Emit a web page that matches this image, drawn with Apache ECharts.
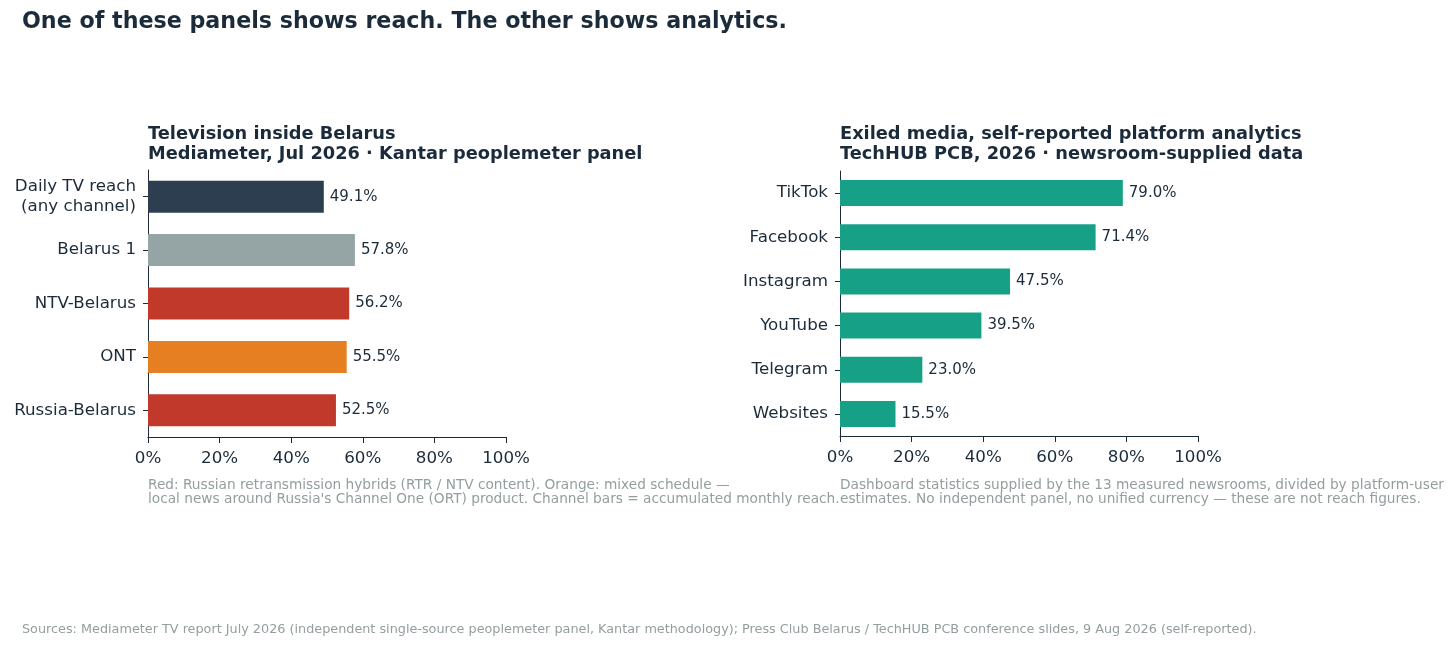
<!DOCTYPE html>
<html>
<head>
<meta charset="utf-8">
<script src="https://cdn.jsdelivr.net/npm/echarts@6/dist/echarts.min.js"></script>
<style>
  html, body { margin: 0; padding: 0; background: #fff; }
  #main { width: 1456px; height: 649px; }
</style>
</head>
<body>
<div id="main"></div>
<script>
// left panel: TV reach inside Belarus
var tvChannels = ['Daily TV reach\n(any channel)', 'Belarus 1', 'NTV-Belarus', 'ONT', 'Russia-Belarus'];
var tvReach = [49.1, 57.8, 56.2, 55.5, 52.5];
var tvColors = ['#2c3e50', '#95a5a6', '#c0392b', '#e67e22', '#c0392b'];

// right panel: exiled media platform analytics
var platforms = ['TikTok', 'Facebook', 'Instagram', 'YouTube', 'Telegram', 'Websites'];
var platformShare = [79.0, 71.4, 47.5, 39.5, 23.0, 15.5];
var platformColor = '#16a085';

var pctTicks = [0, 20, 40, 60, 80, 100];

var ink = '#1c2b3a';
var noteGrey = '#939e9f';
var font = 'DejaVu Sans';

var myChart = echarts.init(document.getElementById('main'));

function xAxisFor(gridIndex) {
  return {
    type: 'value', gridIndex: gridIndex,
    min: pctTicks[0], max: pctTicks[pctTicks.length - 1], interval: 20,
    splitLine: { show: false },
    axisLine: { show: true, lineStyle: { color: ink, width: 1 } },
    axisTick: { show: true, length: 6, lineStyle: { color: ink } },
    axisLabel: { formatter: '{value}%', color: ink, fontSize: 16.7, fontFamily: font, margin: 13 }
  };
}
function yAxisFor(gridIndex, cats) {
  return {
    type: 'category', gridIndex: gridIndex, data: cats, inverse: true,
    axisLine: { show: true, lineStyle: { color: ink, width: 1 } },
    axisTick: { show: true, length: 5, alignWithLabel: true, lineStyle: { color: ink } },
    axisLabel: { color: ink, fontSize: 16.7, fontFamily: font, margin: 12, lineHeight: 20, align: 'right' }
  };
}
var valueLabel = {
  show: true, position: 'right', distance: 6,
  formatter: function (p) { return p.value.toFixed(1) + '%'; },
  color: ink, fontSize: 15, fontFamily: font
};

var option = {
  backgroundColor: '#fff',
  animation: false,
  textStyle: { fontFamily: font },
  title: [
    { text: 'One of these panels shows reach. The other shows analytics.', left: 22, top: 11, padding: 0,
      textStyle: { fontSize: 22.2, fontWeight: 'bold', color: ink, fontFamily: font } },
    { text: 'Television inside Belarus\nMediameter, Jul 2026 · Kantar peoplemeter panel', left: 148, top: 124, padding: 0,
      textStyle: { fontSize: 17.8, fontWeight: 'bold', color: ink, fontFamily: font, lineHeight: 20.5 } },
    { text: 'Exiled media, self-reported platform analytics\nTechHUB PCB, 2026 · newsroom-supplied data', left: 840, top: 124, padding: 0,
      textStyle: { fontSize: 17.8, fontWeight: 'bold', color: ink, fontFamily: font, lineHeight: 20.5 } }
  ],
  grid: [
    { left: 148, top: 170, width: 358, height: 267 },
    { left: 840, top: 171, width: 358, height: 265 }
  ],
  xAxis: [xAxisFor(0), xAxisFor(1)],
  yAxis: [yAxisFor(0, tvChannels), yAxisFor(1, platforms)],
  series: [
    {
      type: 'bar', xAxisIndex: 0, yAxisIndex: 0, barWidth: 32,
      data: tvReach.map(function (v, i) { return { value: v, itemStyle: { color: tvColors[i] } }; }),
      label: valueLabel
    },
    {
      type: 'bar', xAxisIndex: 1, yAxisIndex: 1, barWidth: 26,
      itemStyle: { color: platformColor },
      data: platformShare,
      label: valueLabel
    }
  ],
  graphic: [
    { type: 'text', left: 148, top: 478,
      style: { text: 'Red: Russian retransmission hybrids (RTR / NTV content). Orange: mixed schedule —\nlocal news around Russia\'s Channel One (ORT) product. Channel bars = accumulated monthly reach.',
        fill: noteGrey, font: '13.7px "DejaVu Sans"', lineHeight: 14.5 } },
    { type: 'text', left: 840, top: 478,
      style: { text: 'Dashboard statistics supplied by the 13 measured newsrooms, divided by platform-user\nestimates. No independent panel, no unified currency — these are not reach figures.',
        fill: noteGrey, font: '13.7px "DejaVu Sans"', lineHeight: 14.5 } },
    { type: 'text', left: 22, top: 623,
      style: { text: 'Sources: Mediameter TV report July 2026 (independent single-source peoplemeter panel, Kantar methodology); Press Club Belarus / TechHUB PCB conference slides, 9 Aug 2026 (self-reported).',
        fill: noteGrey, font: '12.8px "DejaVu Sans"' } }
  ]
};
myChart.setOption(option);
</script>
</body>
</html>
